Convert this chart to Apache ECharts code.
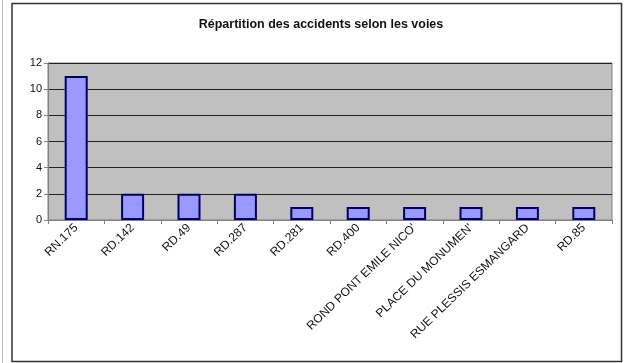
<!DOCTYPE html>
<html><head><meta charset="utf-8">
<script src="https://cdn.jsdelivr.net/npm/echarts@6/dist/echarts.min.js"></script>
<style>html,body{margin:0;padding:0;background:#fff}#c{width:624px;height:363px}</style>
</head><body><div id="c"></div>
<script>
const categories = ["RN.175","RD.142","RD.49","RD.287","RD.281","RD.400","ROND PONT EMILE NICO'","PLACE DU MONUMEN'","RUE PLESSIS ESMANGARD","RD.85"];
const values = [11,2,2,2,1,1,1,1,1,1];
const yTicks = [0,2,4,6,8,10,12];

const chart = echarts.init(document.getElementById('c'), null, {renderer:'canvas'});
chart.setOption({
  animation:false,
  backgroundColor:'#fff',
  title:{text:'Répartition des accidents selon les voies', left:316, textAlign:'center', top:13,
    textStyle:{fontFamily:'Liberation Sans, Arial', fontSize:12.5, fontWeight:'bold', color:'#111'}},
  grid:{left:48, right:12, top:63, bottom:143, show:true, backgroundColor:'#c0c0c0', borderColor:'#808080', borderWidth:1},
  xAxis:{type:'category', data:categories,
    axisLine:{lineStyle:{color:'#808080', width:1}},
    axisTick:{show:true, alignWithLabel:false, length:4, lineStyle:{color:'#808080'}},
    axisLabel:{rotate:44, interval:0, fontFamily:'Liberation Sans, Arial', fontSize:12, color:'#111', margin:6}},
  yAxis:{type:'value', min:yTicks[0], max:yTicks[yTicks.length-1], interval:2,
    axisLine:{show:true, lineStyle:{color:'#808080'}},
    axisTick:{show:true, length:4, lineStyle:{color:'#808080'}},
    axisLabel:{fontFamily:'Liberation Sans, Arial', fontSize:11, color:'#111', margin:6},
    splitLine:{show:true, lineStyle:{color:'#222', width:1}}},
  series:[{type:'bar', data:values, barWidth:23,
    itemStyle:{color:'#9999ff', borderColor:'#000060', borderWidth:2}}],
  graphic:[
    {type:'rect', shape:{x:12, y:3.5, width:609.5, height:358}, style:{fill:'none', stroke:'#333', lineWidth:1.5}, z:100},
    {type:'line', shape:{x1:2.5, y1:0, x2:2.5, y2:363}, style:{stroke:'#bbb', lineWidth:1}}
  ]
});
</script></body></html>
